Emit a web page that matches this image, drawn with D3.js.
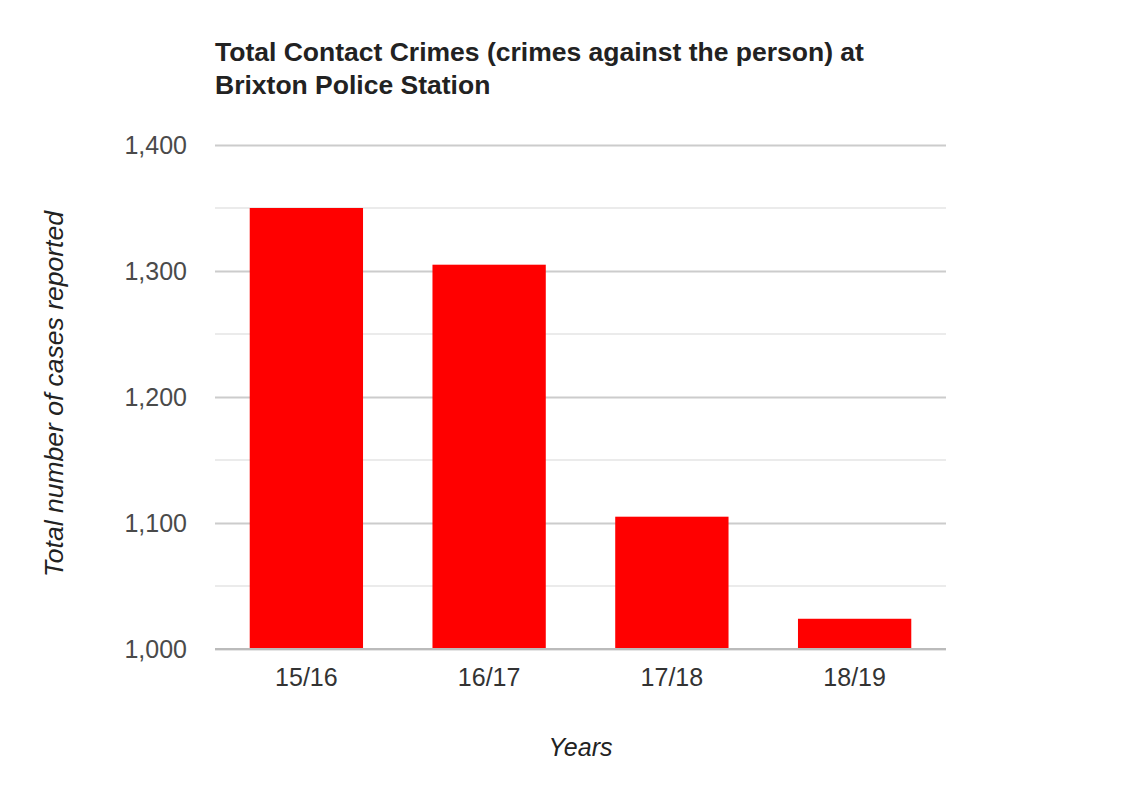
<!DOCTYPE html>
<html>
<head>
<meta charset="utf-8">
<script src="https://cdn.jsdelivr.net/npm/d3@7"></script>
<style>
  body { margin: 0; background: #fff; }
  svg { display: block; font-family: "Liberation Sans", Arial, sans-serif; }
</style>
</head>
<body>
<svg id="chart" width="1123" height="794"></svg>
<script>
// data
const years = ["15/16", "16/17", "17/18", "18/19"];
const cases = [1350, 1305, 1105, 1024];
const majorTicks = [1000, 1100, 1200, 1300, 1400];
const minorTicks = [1050, 1150, 1250, 1350];
const titleLines = ["Total Contact Crimes (crimes against the person) at", "Brixton Police Station"];

const svg = d3.select("#chart");
const plotLeft = 215, plotRight = 946, plotTop = 145, plotBottom = 649;

const x = d3.scaleBand()
  .domain(years)
  .range([plotLeft, plotRight])
  .paddingInner(0.38)
  .paddingOuter(0.19);

const y = d3.scaleLinear()
  .domain([1000, 1400])
  .range([plotBottom, plotTop]);

// minor gridlines
svg.append("g")
  .selectAll("line")
  .data(minorTicks)
  .join("line")
  .attr("x1", plotLeft)
  .attr("x2", plotRight)
  .attr("y1", (d) => y(d))
  .attr("y2", (d) => y(d))
  .attr("stroke", "#ebebeb")
  .attr("stroke-width", 2);

// major gridlines + labels via axis
const yAxis = svg.append("g")
  .attr("transform", `translate(${plotLeft},0)`)
  .call(d3.axisLeft(y).tickValues(majorTicks).tickFormat(d3.format(",")).tickSize(-(plotRight - plotLeft)).tickPadding(28));
yAxis.select(".domain").remove();
yAxis.selectAll(".tick line").attr("stroke", "#cccccc").attr("stroke-width", 2);
yAxis.selectAll(".tick text")
  .attr("fill", "#4a4a4a")
  .attr("font-size", 25)
  .attr("font-family", "Liberation Sans, Arial, sans-serif");

// bars
svg.append("g")
  .selectAll("rect")
  .data(years)
  .join("rect")
  .attr("x", (d) => x(d))
  .attr("width", x.bandwidth())
  .attr("y", (d, i) => y(cases[i]))
  .attr("height", (d, i) => y(1000) - y(cases[i]))
  .attr("fill", "#ff0000");

// baseline
svg.append("line")
  .attr("x1", plotLeft)
  .attr("x2", plotRight)
  .attr("y1", y(1000))
  .attr("y2", y(1000))
  .attr("stroke", "#bbbbbb")
  .attr("stroke-width", 2);

// x axis labels
const xAxis = svg.append("g")
  .attr("transform", `translate(0,${plotBottom})`)
  .call(d3.axisBottom(x).tickSize(0).tickPadding(19));
xAxis.select(".domain").remove();
xAxis.selectAll(".tick text")
  .attr("fill", "#333")
  .attr("font-size", 25)
  .attr("font-family", "Liberation Sans, Arial, sans-serif");

// title
svg.append("text")
  .attr("x", plotLeft)
  .attr("y", 61)
  .attr("font-size", 26.5)
  .attr("font-weight", "bold")
  .attr("fill", "#222")
  .selectAll("tspan")
  .data(titleLines)
  .join("tspan")
  .attr("x", plotLeft)
  .attr("dy", (d, i) => (i === 0 ? 0 : 33))
  .text((d) => d);

// axis titles
svg.append("text")
  .attr("transform", `translate(63,${(plotTop + plotBottom) / 2 - 3}) rotate(-90)`)
  .attr("text-anchor", "middle")
  .attr("font-size", 26.5)
  .attr("font-style", "italic")
  .attr("fill", "#222")
  .text("Total number of cases reported");

svg.append("text")
  .attr("x", (plotLeft + plotRight) / 2)
  .attr("y", 756)
  .attr("text-anchor", "middle")
  .attr("font-size", 25)
  .attr("font-style", "italic")
  .attr("fill", "#222")
  .text("Years");
</script>
</body>
</html>
